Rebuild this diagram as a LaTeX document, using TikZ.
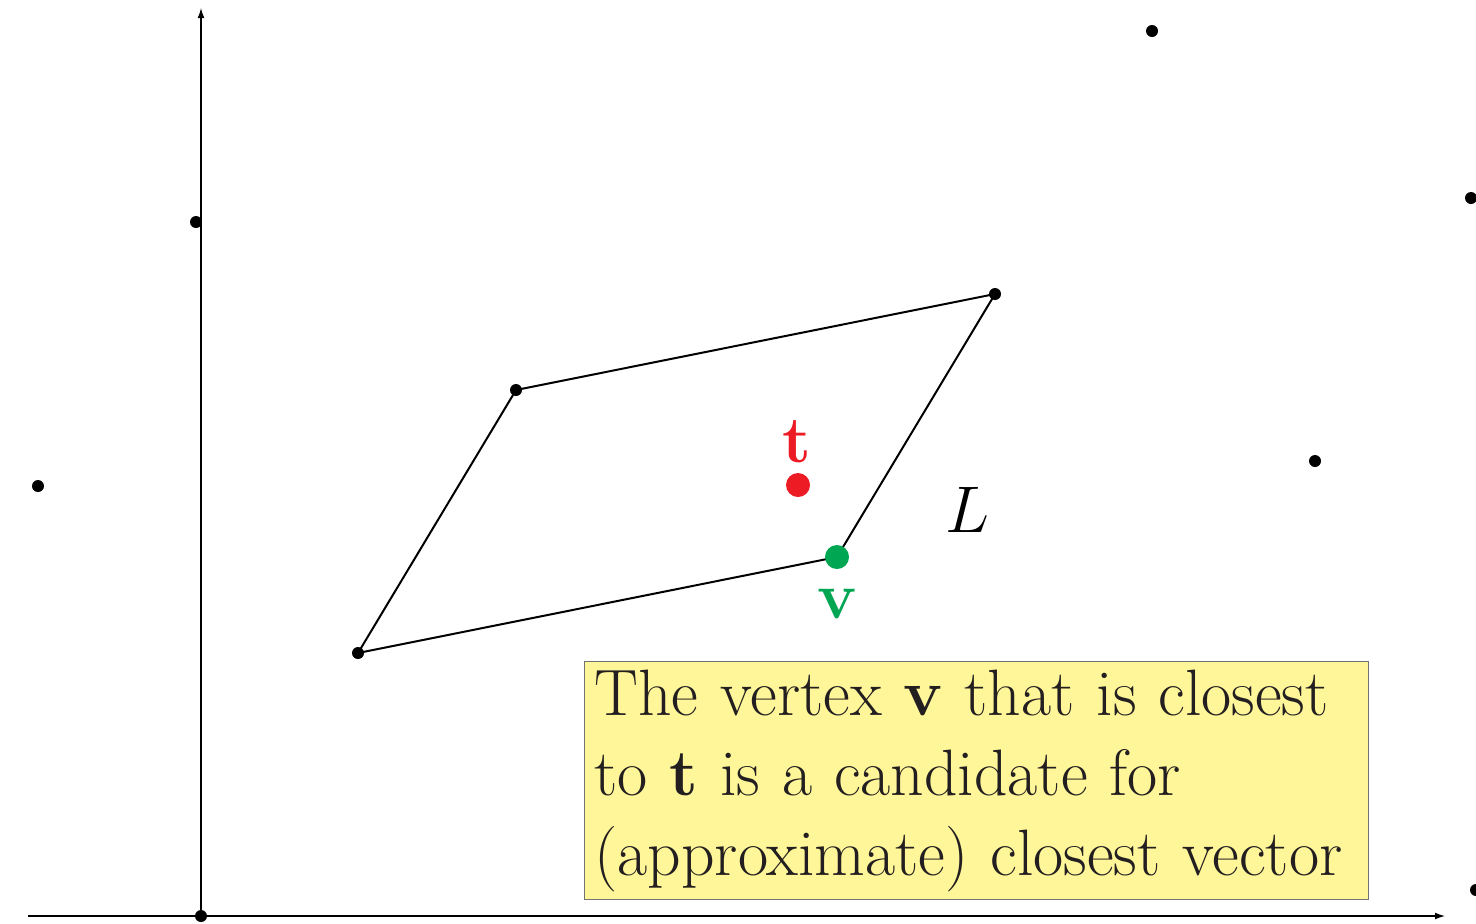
\documentclass[tikz,border=0pt]{standalone}
\usepackage{graphicx}
\usetikzlibrary{arrows.meta}
\definecolor{ptred}{RGB}{237,28,36}
\definecolor{ptgreen}{RGB}{0,166,81}
\definecolor{boxfill}{RGB}{255,246,153}
\definecolor{txt}{RGB}{35,31,32}
\begin{document}
\begin{tikzpicture}[x=0.5pt,y=-0.5pt,
  lat/.style={circle,fill=black,inner sep=0pt,minimum size=6pt},
  bigdot/.style={circle,inner sep=0pt,minimum size=12pt},
  axis/.style={line width=0.6pt,-{Latex[length=5pt,width=3.4pt]}},
  edge/.style={line width=1pt},
  lbl/.style={inner sep=0pt,font=\fontsize{33}{40}\selectfont},
  note/.style={draw=black!55,line width=0.5pt,fill=boxfill,text=txt,align=left,
    anchor=north west,inner xsep=5pt,inner ysep=0pt,text width=382pt,
    minimum height=119pt,font=\fontsize{32.8}{40}\selectfont}]
\useasboundingbox (0,0) rectangle (1476,923);
\clip (0,0) rectangle (1476,923);
% axes
\coordinate (xs) at (28,916);
\coordinate (xe) at (1445,916);
\coordinate (ye) at (201,8);
\node[lat] (o) at (201,916) {};
\draw[axis] (xs) -- (xe);
\draw[axis] (o.center) -- (ye);
% lattice points
\node[lat] (p1) at (196,222) {};
\node[lat] (p2) at (38,486) {};
\node[lat] (p3) at (1152,31) {};
\node[lat] (p4) at (1471,198) {};
\node[lat] (p5) at (1315,461) {};
\node[lat] (p6) at (1476,890) {};
% parallelogram
\node[lat] (a) at (358,653) {};
\node[lat] (b) at (516,390) {};
\node[lat] (c) at (995,294) {};
\coordinate (d) at (837,557);
\draw[edge] (a.center) -- (b.center) -- (c.center) -- (d) -- cycle;
\node[bigdot,fill=ptgreen] (v) at (d) {};
\node[bigdot,fill=ptred] (t) at (798,485) {};
% labels
\node[lbl,text=ptred,anchor=base] (tl) at (797,462) {\textbf{t}};
\node[lbl,text=ptgreen,anchor=base] (vl) at (837,618) {\textbf{v}};
\node[lbl,anchor=base] (L) at (967,532) {\scalebox{1.326}{$L$}};
% note
\node[note] (box) at (584,661) {The vertex \textbf{v} that is closest\\
to \textbf{t} is a candidate for\\
(approximate) closest vector};
\end{tikzpicture}
\end{document}
